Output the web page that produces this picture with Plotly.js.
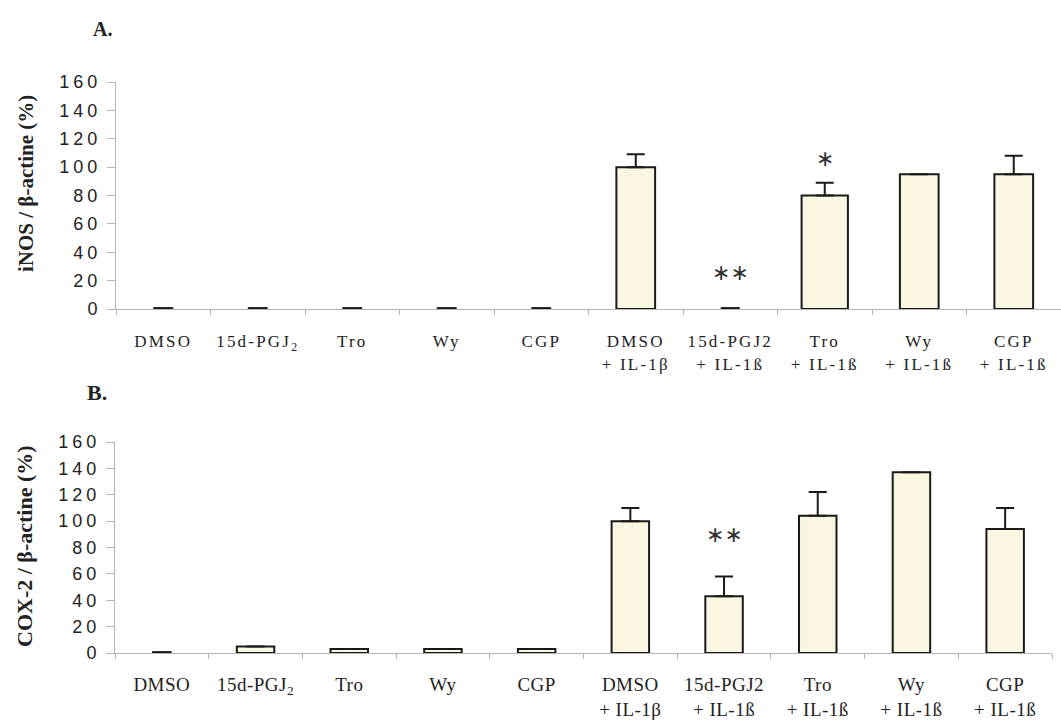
<!DOCTYPE html>
<html>
<head>
<meta charset="utf-8">
<script src="https://cdn.plot.ly/plotly-3.0.1.min.js"></script>
<style>
  html, body { margin: 0; padding: 0; background: #fff; }
  #chart { width: 1061px; height: 722px; }
  .xtick text { letter-spacing: 2.2px; }
  .x2tick text { letter-spacing: 0.5px; }
  .ytick text, .y2tick text { letter-spacing: 4px; }
</style>
</head>
<body>
<div id="chart"></div>
<script>
// ---- data ----
var categories = ["DMSO", "15d-PGJ2", "Tro", "Wy", "CGP",
                  "DMSO + IL-1β", "15d-PGJ2 + IL-1ß", "Tro + IL-1ß", "Wy + IL-1ß", "CGP + IL-1ß"];
var tickLabels = ["DMSO", "15d-PGJ<sub>2</sub>", "Tro", "Wy", "CGP",
                  "DMSO<br>+ IL-1β", "15d-PGJ2<br>+ IL-1ß", "Tro<br>+ IL-1ß", "Wy<br>+ IL-1ß", "CGP<br>+ IL-1ß"];
var iNOSValues = [0.5, 0.5, 0.5, 0.5, 0.5, 100, 0.5, 80, 95, 95];
var iNOSErrors = [0, 0, 0, 0, 0, 9, 0, 9, 0, 13];
var cox2Values = [0.5, 5, 3, 3, 3, 100, 43, 104, 137, 94];
var cox2Errors = [0, 0, 0, 0, 0, 10, 15, 18, 0, 16];
var iNOSMarks = [{cat: "15d-PGJ2 + IL-1ß", y: 26, text: "∗∗"}, {cat: "Tro + IL-1ß", y: 106, text: "∗"}];
var cox2Marks = [{cat: "15d-PGJ2 + IL-1ß", y: 89.5, text: "∗∗"}];
var yTicks = [0, 20, 40, 60, 80, 100, 120, 140, 160];

// ---- style ----
var W = 1061, H = 722;
var fillColor = "#FBF6E1";
var edgeColor = "#1a1a1a";
var axisGray = "#b5b5b5";
var topWidths = [0.19, 0.19, 0.19, 0.19, 0.19, 0.41, 0.18, 0.49, 0.41, 0.41];
var botWidths = [0.19, 0.40, 0.40, 0.40, 0.40, 0.40, 0.40, 0.40, 0.40, 0.40];

function px(xp) { return xp / W; }
function py(yp) { return 1 - yp / H; }

function barTrace(vals, errs, widths, xa, ya) {
  return {
    type: "bar", x: categories, y: vals, width: widths,
    xaxis: xa, yaxis: ya,
    marker: {color: fillColor, line: {color: edgeColor, width: 2}},
    error_y: {type: "data", symmetric: false, array: errs,
              arrayminus: errs.map(function () { return 0; }),
              color: edgeColor, thickness: 2, width: 9},
    hoverinfo: "none", showlegend: false
  };
}

var xCommon = {
  type: "category", categoryorder: "array", categoryarray: categories,
  tickmode: "array", tickvals: categories, ticktext: tickLabels, tickangle: 0,
  tickson: "boundaries", ticks: "outside", ticklen: 5, tickcolor: axisGray,
  showline: true, linecolor: axisGray, linewidth: 1,
  showgrid: false, zeroline: false, fixedrange: true
};
var yCommon = {
  range: [0, 160], tickmode: "array", tickvals: yTicks,
  ticks: "outside", ticklen: 8, tickcolor: axisGray,
  showline: true, linecolor: axisGray, linewidth: 1,
  showgrid: false, zeroline: false,
  tickfont: {family: "Liberation Sans", size: 18, color: "#222"},
  ticklabelstandoff: 2, fixedrange: true
};

var layout = {
  width: W, height: H, margin: {l: 0, r: 0, t: 0, b: 0},
  paper_bgcolor: "#fff", plot_bgcolor: "rgba(0,0,0,0)",
  bargap: 0.5,
  xaxis: Object.assign({}, xCommon, {domain: [px(116), px(1061)], anchor: "y",
                                     tickfont: {family: "Liberation Serif", size: 17, color: "#222"},
                                     ticklabelstandoff: 17}),
  yaxis: Object.assign({}, yCommon, {domain: [py(309), py(82)], anchor: "x"}),
  xaxis2: Object.assign({}, xCommon, {domain: [px(115), px(1052)], anchor: "y2",
                                      tickfont: {family: "Liberation Serif", size: 19, color: "#222"},
                                      ticklabelstandoff: 14}),
  yaxis2: Object.assign({}, yCommon, {domain: [py(653), py(442)], anchor: "x2"}),
  annotations: [
    {text: "<b>A.</b>", xref: "paper", yref: "paper", x: px(102), y: py(29),
     xanchor: "center", yanchor: "middle", showarrow: false,
     font: {family: "Liberation Serif", size: 20, color: "#222"}},
    {text: "<b>B.</b>", xref: "paper", yref: "paper", x: px(97), y: py(392),
     xanchor: "center", yanchor: "middle", showarrow: false,
     font: {family: "Liberation Serif", size: 22, color: "#222"}},
    {text: "<b>iNOS / β-actine (%)</b>", xref: "paper", yref: "paper", x: px(26), y: py(184),
     xanchor: "center", yanchor: "middle",
     textangle: -90, showarrow: false, font: {family: "Liberation Serif", size: 21, color: "#222"}},
    {text: "<b>COX-2 / β-actine (%)</b>", xref: "paper", yref: "paper", x: px(24), y: py(546),
     xanchor: "center", yanchor: "middle",
     textangle: -90, showarrow: false, font: {family: "Liberation Serif", size: 22, color: "#222"}}
  ]
};

iNOSMarks.forEach(function (m) {
  layout.annotations.push({text: m.text, xref: "x", yref: "y", x: m.cat, y: m.y, showarrow: false,
    xanchor: "center", yanchor: "middle",
    font: {family: "DejaVu Sans", size: 22, color: "#333"}});
});
cox2Marks.forEach(function (m) {
  layout.annotations.push({text: m.text, xref: "x2", yref: "y2", x: m.cat, y: m.y, showarrow: false,
    xanchor: "center", yanchor: "middle",
    font: {family: "DejaVu Sans", size: 22, color: "#333"}});
});

var data = [
  barTrace(iNOSValues, iNOSErrors, topWidths, "x", "y"),
  barTrace(cox2Values, cox2Errors, botWidths, "x2", "y2")
];

Plotly.newPlot("chart", data, layout, {staticPlot: true, displayModeBar: false});
</script>
</body>
</html>
